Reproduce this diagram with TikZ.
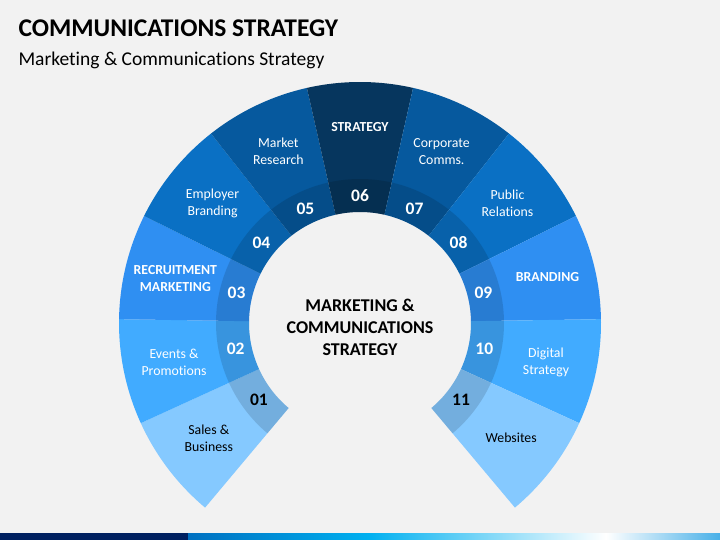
\documentclass[tikz,border=0pt]{standalone}
\usepackage{fontspec}
\setmainfont{Carlito}[Ligatures=NoCommon]
\usetikzlibrary{calc}
\definecolor{bg}{HTML}{F2F2F2}
\definecolor{cA}{HTML}{85C9FF}
\definecolor{cB}{HTML}{41ABFF}
\definecolor{cC}{HTML}{2F8FF2}
\definecolor{cD}{HTML}{0A70C4}
\definecolor{cE}{HTML}{06599E}
\definecolor{cF}{HTML}{06365E}
\definecolor{navy}{HTML}{002060}
\definecolor{barA}{HTML}{0070C0}
\definecolor{barB}{HTML}{00B0F0}
\definecolor{barC}{HTML}{48B0E8}
\begin{document}
\begin{tikzpicture}[x=1pt,y=1pt,
  lab/.style={align=center,font=\fontsize{13.8}{17}\selectfont},
  num/.style={font=\fontsize{17.5}{18}\selectfont\bfseries},
  ringshade/.style={fill=black,fill opacity=0.13}]
\fill[bg] (0,0) rectangle (720,540);
\useasboundingbox (0,0) rectangle (720,540);
\node[anchor=base west,font=\fontsize{25.5}{28}\selectfont\bfseries] (title) at (15,503) {COMMUNICATIONS STRATEGY};
\node[anchor=base west,font=\fontsize{19.5}{22}\selectfont] (subtitle) at (15,474) {Marketing \& Communications Strategy};
\coordinate (c) at (360,217);
\foreach \i/\n/\col/\tc/\rr/\lab in {
  1/01/cA/black/190/{Sales \&\\Business},
  2/02/cB/white/190/{Events \&\\Promotions},
  3/03/cC/white/190/{\textbf{RECRUITMENT}\\\textbf{MARKETING}},
  4/04/cD/white/190/{Employer\\Branding},
  5/05/cE/white/190/{Market\\Research},
  6/06/cF/white/196/{\textbf{STRATEGY}},
  7/07/cE/white/190/{Corporate\\Comms.},
  8/08/cD/white/190/{Public\\Relations},
  9/09/cC/white/193/{\textbf{BRANDING}},
  10/10/cB/white/190/{Digital\\Strategy},
  11/11/cA/black/190/{Websites}}{
  \pgfmathsetmacro{\aa}{230-(\i-1)*280/11}
  \pgfmathsetmacro{\ab}{\aa-280/11}
  \pgfmathsetmacro{\am}{\aa-140/11}
  \fill[\col] ($(c)+(\aa:241)$) arc[start angle=\aa,end angle=\ab,radius=241]
     -- ($(c)+(\ab:111)$) arc[start angle=\ab,end angle=\aa,radius=111] -- cycle;
  \fill[ringshade] ($(c)+(\aa:144)$) arc[start angle=\aa,end angle=\ab,radius=144]
     -- ($(c)+(\ab:111)$) arc[start angle=\ab,end angle=\aa,radius=111] -- cycle;
  \node[num,text=\tc] (n\i) at ($(c)+(\am:127)$) {\n};
  \node[lab,text=\tc] (l\i) at ($(c)+(\am:\rr)$) {\lab};
}
\node[align=center,font=\fontsize{18}{22}\selectfont\bfseries] (centre) at (360,213) {MARKETING \&\\COMMUNICATIONS\\STRATEGY};
\fill[navy] (0,0) rectangle (188,6.5);
\shade[left color=barA,right color=barB] (188,0) rectangle (368,6.5);
\shade[left color=barB,right color=white] (368,0) rectangle (606,6.5);
\shade[left color=white,right color=barC] (606,0) rectangle (720,6.5);
\end{tikzpicture}
\end{document}
